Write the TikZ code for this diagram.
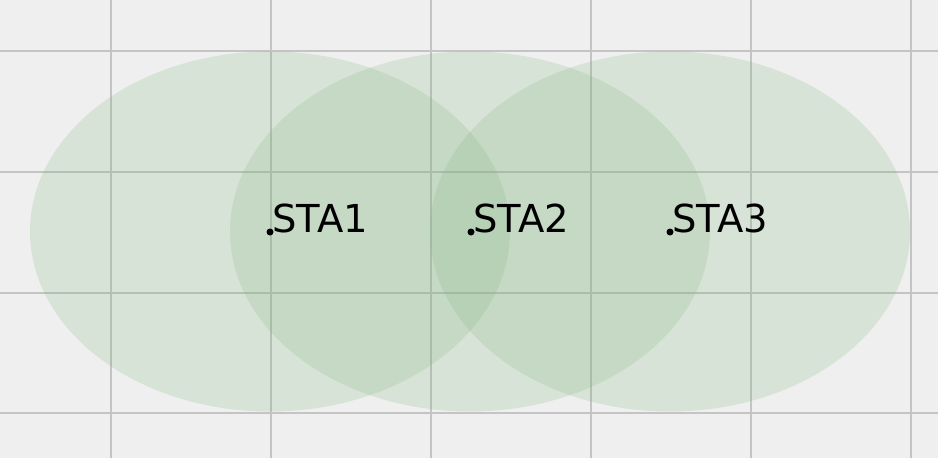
\documentclass[tikz,border=0pt]{standalone}
\usepackage{fontspec}
\setmainfont{DejaVu Sans}
\definecolor{bg}{RGB}{239,239,239}
\definecolor{gridc}{RGB}{196,196,196}
\definecolor{cov}{RGB}{124,179,124}
\begin{document}
\begin{tikzpicture}[x=1pt,y=-1pt,
  gridline/.style={draw=gridc,line width=2.2pt},
  coverage/.style={fill=cov,fill opacity=0.2,draw=none},
  sta/.style={circle,fill=black,inner sep=0pt,minimum size=7pt},
  stalabel/.style={anchor=base west,inner sep=0pt,font=\fontsize{38.5}{40}\selectfont,text=black}]
\fill[bg] (0,0) rectangle (938,458);
\useasboundingbox (0,0) rectangle (938,458);
\foreach \x in {111,271,431,591,751,911} \draw[gridline] (\x,0) -- (\x,458);
\foreach \y in {51,172,293,413} \draw[gridline] (0,\y) -- (938,\y);
\fill[coverage] (270,231.5) ellipse [x radius=240, y radius=180];
\fill[coverage] (470,231.5) ellipse [x radius=240, y radius=180];
\fill[coverage] (670,231.5) ellipse [x radius=240, y radius=180];
\node[sta] (s1) at (270,232) {};
\node[sta] (s2) at (471,232) {};
\node[sta] (s3) at (670,232) {};
\node[stalabel] (l1) at (272,232.5) {STA1};
\node[stalabel] (l2) at (473,232.5) {STA2};
\node[stalabel] (l3) at (672,232.5) {STA3};
\end{tikzpicture}
\end{document}
